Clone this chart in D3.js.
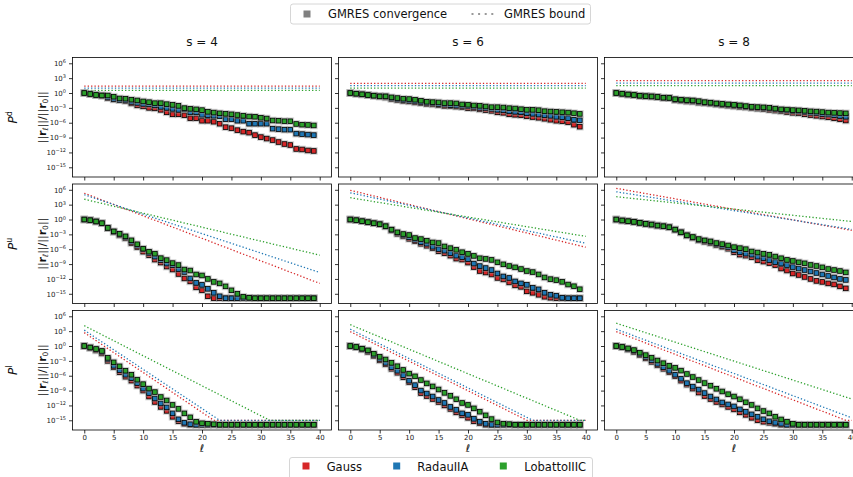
<!DOCTYPE html>
<html>
<head>
<meta charset="utf-8">
<script src="https://cdn.jsdelivr.net/npm/d3@7"></script>
<style>
  body { margin: 0; background: #fff; }
  svg { display: block; font-family: "DejaVu Sans", sans-serif; }
</style>
</head>
<body>
<svg id="chart" width="853" height="477"></svg>
<script>
const methods = ['Gauss', 'RadauIIA', 'LobattoIIIC'];
const methodColors = ['#d62728', '#1f77b4', '#2ca02c'];
const stages = [4, 6, 8];
const operators = ['d', 'u', 'l'];
const iterations = [0,1,2,3,4,5,6,7,8,9,10,11,12,13,14,15,16,17,18,19,20,21,22,23,24,25,26,27,28,29,30,31,32,33,34,35,36,37,38,39];
const xTicks = [0, 5, 10, 15, 20, 25, 30, 35, 40];
const yTickExps = [6, 3, 0, -3, -6, -9, -12, -15];

// log10 of ||r_l|| / ||r_0||
const gauss_d4 = [0,-0.2,-0.4,-0.55,-1.0,-1.3,-1.4,-1.6,-2.1,-2.5,-2.7,-3.0,-3.1,-3.4,-3.9,-4.3,-4.3,-4.5,-5.1,-5.1,-5.6,-5.6,-5.8,-6.2,-6.9,-7.1,-7.5,-7.8,-8.0,-8.5,-8.9,-9.2,-9.5,-9.9,-10.3,-10.5,-11.3,-11.4,-11.6,-11.7];
const radau_d4 = [0,-0.2,-0.4,-0.5,-0.9,-1.2,-1.4,-1.5,-1.8,-2.0,-2.2,-2.3,-2.5,-2.8,-3.0,-3.2,-3.4,-3.3,-3.9,-3.9,-4.4,-4.5,-4.6,-4.7,-5.3,-5.3,-5.6,-5.6,-6.2,-6.2,-6.2,-6.2,-7.2,-7.3,-7.4,-7.4,-8.2,-8.3,-8.4,-8.5];
const lobatto_d4 = [0,-0.2,-0.4,-0.5,-0.5,-0.75,-1.1,-1.15,-1.35,-1.5,-1.7,-1.85,-2.05,-2.05,-2.25,-2.4,-2.6,-3.05,-3.2,-3.3,-3.45,-3.8,-3.95,-4.1,-4.2,-4.3,-4.45,-4.6,-4.75,-4.8,-5.0,-5.15,-5.55,-5.6,-5.7,-5.7,-6.25,-6.4,-6.45,-6.55];

const gauss_d6 = [0,-0.14,-0.27,-0.41,-0.54,-0.68,-0.9,-1.2,-1.4,-1.6,-1.7,-1.9,-2.05,-2.2,-2.3,-2.45,-2.6,-2.65,-2.75,-2.85,-3.05,-3.1,-3.3,-3.45,-3.6,-3.9,-4.0,-4.3,-4.4,-4.5,-4.7,-4.85,-5.0,-5.2,-5.4,-5.6,-5.7,-5.9,-6.4,-6.8];
const radau_d6 = [0,-0.14,-0.27,-0.41,-0.54,-0.68,-0.68,-1.1,-1.3,-1.45,-1.55,-1.7,-1.85,-2.0,-2.1,-2.25,-2.35,-2.45,-2.55,-2.6,-2.7,-2.8,-3.0,-3.1,-3.2,-3.4,-3.5,-3.7,-3.8,-3.9,-4.1,-4.2,-4.35,-4.5,-4.6,-4.8,-4.9,-5.1,-5.4,-5.5];
const lobatto_d6 = [0,-0.14,-0.27,-0.41,-0.54,-0.68,-0.68,-0.88,-1.02,-1.16,-1.22,-1.36,-1.56,-1.77,-1.84,-1.9,-2.04,-2.04,-2.1,-2.31,-2.38,-2.52,-2.59,-2.72,-2.86,-2.86,-2.93,-3.06,-3.13,-3.27,-3.4,-3.4,-3.47,-3.67,-3.74,-3.81,-3.88,-3.95,-4.08,-4.22];

const gauss_d8 = [0,-0.15,-0.3,-0.4,-0.55,-0.65,-0.7,-0.8,-0.95,-1.0,-1.45,-1.55,-1.7,-1.75,-1.95,-2.05,-2.15,-2.3,-2.45,-2.55,-2.7,-2.8,-2.9,-3.05,-3.15,-3.25,-3.4,-3.55,-3.7,-3.85,-4.0,-4.1,-4.3,-4.45,-4.6,-4.75,-4.9,-5.1,-5.3,-5.55];
const radau_d8 = [0,-0.15,-0.3,-0.4,-0.55,-0.65,-0.7,-0.8,-0.95,-1.0,-1.35,-1.45,-1.55,-1.6,-1.8,-1.95,-2.05,-2.2,-2.3,-2.4,-2.5,-2.65,-2.75,-2.9,-2.95,-3.05,-3.15,-3.3,-3.45,-3.55,-3.65,-3.75,-3.85,-4.0,-4.1,-4.25,-4.35,-4.5,-4.65,-4.8];
const lobatto_d8 = [0,-0.15,-0.3,-0.4,-0.55,-0.65,-0.7,-0.8,-0.95,-1.0,-1.25,-1.35,-1.45,-1.5,-1.65,-1.85,-1.95,-2.1,-2.2,-2.3,-2.4,-2.5,-2.65,-2.8,-2.85,-2.9,-3.0,-3.15,-3.3,-3.35,-3.45,-3.5,-3.6,-3.7,-3.75,-3.85,-3.95,-4.0,-4.05,-4.1];

const gauss_u4 = [0,-0.14,-0.4,-0.75,-1.7,-2.5,-3.2,-3.8,-4.8,-5.6,-6.5,-7.2,-8.1,-8.7,-9.5,-10.1,-11.0,-11.9,-12.5,-13.7,-14.3,-15.5,-15.9,-15.9,-15.9,-15.9,-15.9,-15.9,-15.9,-15.9,-15.9,-15.9,-15.9,-15.9,-15.9,-15.9,-15.9,-15.9,-15.9,-15.9];
const radau_u4 = [0,-0.14,-0.4,-0.75,-1.7,-2.45,-3.0,-3.6,-4.5,-5.3,-6.0,-6.8,-7.5,-8.2,-8.9,-9.2,-10.0,-10.6,-11.9,-12.8,-13.2,-14.0,-14.8,-15.5,-15.9,-15.9,-15.9,-15.9,-15.9,-15.9,-15.9,-15.9,-15.9,-15.9,-15.9,-15.9,-15.9,-15.9,-15.9,-15.9];
const lobatto_u4 = [0,-0.14,-0.4,-0.75,-1.7,-2.4,-2.9,-3.4,-4.2,-5.0,-5.9,-6.5,-6.9,-7.8,-8.2,-8.8,-9.2,-10.1,-10.3,-11.1,-11.3,-12.0,-12.6,-12.9,-13.5,-14.3,-15.0,-15.6,-15.8,-15.9,-15.9,-15.9,-15.9,-15.9,-15.9,-15.9,-15.9,-15.9,-15.9,-15.9];

const gauss_u6 = [0,-0.14,-0.34,-0.54,-0.75,-0.95,-1.4,-2.2,-2.9,-3.4,-3.9,-4.4,-4.9,-5.3,-5.8,-6.4,-6.8,-7.3,-7.9,-8.1,-8.7,-9.6,-10.4,-10.7,-11.1,-11.8,-12.1,-12.7,-13.3,-13.6,-14.5,-14.8,-15.2,-15.6,-15.8,-15.9,-15.9,-15.9,-15.9,-15.9];
const radau_u6 = [0,-0.14,-0.34,-0.54,-0.75,-0.95,-1.36,-2.1,-2.7,-3.2,-3.6,-4.1,-4.6,-4.9,-5.5,-6.0,-6.3,-6.8,-7.3,-7.6,-8.0,-8.9,-9.4,-9.8,-10.2,-10.9,-11.5,-11.8,-12.5,-12.9,-13.2,-13.8,-14.1,-14.8,-15.2,-15.4,-15.8,-15.9,-15.9,-15.9];
const lobatto_u6 = [0,-0.14,-0.34,-0.54,-0.75,-0.95,-1.36,-2.04,-2.59,-2.93,-3.13,-3.74,-3.95,-4.29,-4.63,-4.76,-5.44,-5.78,-6.12,-6.6,-6.94,-7.35,-7.82,-7.96,-8.16,-8.64,-9.05,-9.39,-9.66,-10.0,-10.4,-10.61,-11.09,-11.7,-12.04,-12.24,-12.59,-13.13,-13.47,-14.08];

const gauss_u8 = [0,-0.2,-0.34,-0.48,-0.68,-0.88,-1.02,-1.22,-1.36,-1.56,-2.04,-2.59,-3.2,-3.7,-4.2,-4.5,-4.8,-5.2,-5.5,-5.9,-6.6,-7.1,-7.3,-7.6,-8.2,-8.5,-8.8,-9.2,-9.9,-10.3,-10.9,-11.2,-11.6,-12.0,-12.4,-12.6,-12.9,-13.1,-13.5,-13.9];
const radau_u8 = [0,-0.2,-0.34,-0.48,-0.68,-0.88,-1.02,-1.22,-1.36,-1.56,-2.04,-2.59,-3.2,-3.6,-4.1,-4.3,-4.6,-5.0,-5.3,-5.6,-6.2,-6.6,-6.9,-7.1,-7.5,-7.8,-8.2,-8.6,-8.9,-9.2,-9.6,-9.9,-10.2,-10.5,-10.8,-11.1,-11.4,-11.7,-12.0,-12.2];
const lobatto_u8 = [0,-0.2,-0.34,-0.48,-0.68,-0.88,-1.02,-1.22,-1.36,-1.56,-2.04,-2.59,-3.2,-3.54,-3.95,-4.22,-4.42,-4.76,-4.97,-5.24,-5.58,-5.78,-5.99,-6.46,-6.67,-6.94,-7.14,-7.48,-7.82,-8.16,-8.37,-8.64,-8.84,-9.18,-9.39,-9.66,-10.0,-10.2,-10.4,-10.68];

const gauss_l4 = [0,-0.4,-0.9,-1.5,-3.0,-4.3,-5.3,-6.2,-7.0,-8.0,-9.0,-10.2,-11.3,-12.3,-13.1,-14.3,-15.2,-15.7,-15.9,-15.9,-15.9,-15.9,-15.9,-15.9,-15.9,-15.9,-15.9,-15.9,-15.9,-15.9,-15.9,-15.9,-15.9,-15.9,-15.9,-15.9,-15.9,-15.9,-15.9,-15.9];
const radau_l4 = [0,-0.3,-0.7,-1.2,-2.7,-4.0,-4.9,-5.8,-6.5,-7.5,-8.6,-9.5,-10.6,-11.6,-12.4,-13.6,-14.8,-15.5,-15.8,-15.9,-15.9,-15.9,-15.9,-15.9,-15.9,-15.9,-15.9,-15.9,-15.9,-15.9,-15.9,-15.9,-15.9,-15.9,-15.9,-15.9,-15.9,-15.9,-15.9,-15.9];
const lobatto_l4 = [0,-0.3,-0.6,-1.0,-2.4,-3.3,-4.1,-5.0,-5.8,-6.8,-7.7,-8.6,-9.3,-10.3,-11.0,-11.9,-12.7,-13.6,-14.4,-15.3,-15.6,-15.7,-15.8,-15.9,-15.9,-15.9,-15.9,-15.9,-15.9,-15.9,-15.9,-15.9,-15.9,-15.9,-15.9,-15.9,-15.9,-15.9,-15.9,-15.9];

const gauss_l6 = [0,-0.25,-0.7,-1.2,-2.0,-2.9,-3.7,-4.6,-5.4,-6.3,-7.3,-8.3,-9.5,-10.1,-10.7,-11.3,-12.0,-12.7,-13.4,-14.0,-14.5,-15.2,-15.6,-15.9,-15.9,-15.9,-15.9,-15.9,-15.9,-15.9,-15.9,-15.9,-15.9,-15.9,-15.9,-15.9,-15.9,-15.9,-15.9,-15.9];
const radau_l6 = [0,-0.2,-0.6,-1.0,-1.8,-2.6,-3.4,-4.3,-5.0,-5.9,-7.0,-7.9,-9.0,-9.6,-10.2,-10.9,-11.5,-12.3,-12.9,-13.6,-13.9,-14.7,-15.3,-15.7,-15.9,-15.9,-15.9,-15.9,-15.9,-15.9,-15.9,-15.9,-15.9,-15.9,-15.9,-15.9,-15.9,-15.9,-15.9,-15.9];
const lobatto_l6 = [0,-0.2,-0.54,-0.88,-1.56,-2.18,-2.72,-3.4,-4.08,-4.83,-5.58,-6.12,-6.87,-7.55,-8.16,-8.78,-9.46,-10.07,-10.75,-11.5,-11.9,-12.59,-13.27,-14.0,-14.76,-15.44,-15.7,-15.78,-15.9,-15.9,-15.9,-15.9,-15.9,-15.9,-15.9,-15.9,-15.9,-15.9,-15.9,-15.9];

const gauss_l8 = [0,-0.25,-0.7,-1.2,-1.8,-2.5,-3.2,-3.9,-4.6,-5.3,-6.1,-7.0,-7.8,-8.6,-9.4,-10.1,-10.7,-11.3,-11.8,-12.3,-12.8,-13.4,-13.9,-14.5,-15.0,-15.3,-15.5,-15.7,-15.9,-15.9,-15.9,-15.9,-15.9,-15.9,-15.9,-15.9,-15.9,-15.9,-15.9,-15.9];
const radau_l8 = [0,-0.2,-0.6,-1.0,-1.6,-2.2,-2.9,-3.6,-4.3,-5.0,-5.8,-6.6,-7.5,-8.2,-8.8,-9.5,-10.2,-10.8,-11.4,-11.8,-12.2,-12.8,-13.3,-13.8,-14.3,-14.8,-15.2,-15.5,-15.7,-15.9,-15.9,-15.9,-15.9,-15.9,-15.9,-15.9,-15.9,-15.9,-15.9,-15.9];
const lobatto_l8 = [0,-0.2,-0.48,-0.82,-1.36,-1.84,-2.38,-2.93,-3.47,-4.01,-4.42,-4.97,-5.65,-6.26,-6.87,-7.48,-8.03,-8.64,-9.18,-9.73,-10.2,-10.75,-11.36,-11.9,-12.59,-13.13,-13.61,-14.29,-14.83,-15.31,-15.71,-15.9,-15.9,-15.9,-15.9,-15.9,-15.9,-15.9,-15.9,-15.9];

// GMRES bounds as [l, log10] break points
const bound_gauss_d4 = [[0, 1.4], [40, 1.4]];
const bound_radau_d4 = [[0, 1.0], [40, 1.0]];
const bound_lobatto_d4 = [[0, 0.55], [40, 0.55]];
const bound_gauss_d6 = [[0, 1.95], [40, 1.95]];
const bound_radau_d6 = [[0, 1.5], [40, 1.5]];
const bound_lobatto_d6 = [[0, 1.0], [40, 1.0]];
const bound_gauss_d8 = [[0, 2.5], [40, 2.5]];
const bound_radau_d8 = [[0, 2.0], [40, 2.0]];
const bound_lobatto_d8 = [[0, 1.5], [40, 1.5]];
const bound_gauss_u4 = [[0, 5.3], [40, -12.9]];
const bound_radau_u4 = [[0, 5.0], [40, -10.7]];
const bound_lobatto_u4 = [[0, 4.1], [40, -7.2]];
const bound_gauss_u6 = [[0, 5.9], [40, -5.6]];
const bound_radau_u6 = [[0, 5.4], [40, -4.8]];
const bound_lobatto_u6 = [[0, 4.4], [40, -3.4]];
const bound_gauss_u8 = [[0, 6.3], [40, -2.2]];
const bound_radau_u8 = [[0, 5.6], [40, -2.0]];
const bound_lobatto_u8 = [[0, 4.6], [40, -0.4]];
const bound_gauss_l4 = [[0, 2.7], [22, -15.0], [40, -15.0]];
const bound_radau_l4 = [[0, 3.2], [23, -15.0], [40, -15.0]];
const bound_lobatto_l4 = [[0, 4.1], [31.5, -15.0], [40, -15.0]];
const bound_gauss_l6 = [[0, 2.9], [30, -15.0], [40, -15.0]];
const bound_radau_l6 = [[0, 3.4], [31, -15.0], [40, -15.0]];
const bound_lobatto_l6 = [[0, 4.3], [39, -15.0], [40, -15.0]];
const bound_gauss_l8 = [[0, 2.9], [39, -15.0], [40, -15.0]];
const bound_radau_l8 = [[0, 3.4], [40, -14.5]];
const bound_lobatto_l8 = [[0, 4.6], [40, -10.7]];

const conv = {
  d: [[gauss_d4, radau_d4, lobatto_d4], [gauss_d6, radau_d6, lobatto_d6], [gauss_d8, radau_d8, lobatto_d8]],
  u: [[gauss_u4, radau_u4, lobatto_u4], [gauss_u6, radau_u6, lobatto_u6], [gauss_u8, radau_u8, lobatto_u8]],
  l: [[gauss_l4, radau_l4, lobatto_l4], [gauss_l6, radau_l6, lobatto_l6], [gauss_l8, radau_l8, lobatto_l8]],
};
const bounds = {
  d: [[bound_gauss_d4, bound_radau_d4, bound_lobatto_d4], [bound_gauss_d6, bound_radau_d6, bound_lobatto_d6], [bound_gauss_d8, bound_radau_d8, bound_lobatto_d8]],
  u: [[bound_gauss_u4, bound_radau_u4, bound_lobatto_u4], [bound_gauss_u6, bound_radau_u6, bound_lobatto_u6], [bound_gauss_u8, bound_radau_u8, bound_lobatto_u8]],
  l: [[bound_gauss_l4, bound_radau_l4, bound_lobatto_l4], [bound_gauss_l6, bound_radau_l6, bound_lobatto_l6], [bound_gauss_l8, bound_radau_l8, bound_lobatto_l8]],
};

const svg = d3.select('#chart');
const colLeft = [72.5, 338.5, 604.5];
const rowTop = [57.5, 184, 310.5];
const panelW = 259, panelH = 119.5;

const x = d3.scaleLinear().domain([-2, 42]).range([0, panelW]);
const y = d3.scaleLog().domain([Math.pow(10, -16.96), Math.pow(10, 7.17)]).range([panelH, 0]);
const line = d3.line().x((d) => x(d[0])).y((d) => y(Math.pow(10, d[1])));

const ms = 4.6;

function powLabel(text, exp) {
  text.text(null);
  text.append('tspan').text('10');
  text.append('tspan')
    .attr('dy', '-0.55em')
    .attr('font-size', '5px')
    .text(exp < 0 ? '\u2212' + (-exp) : String(exp));
}

operators.forEach((op, r) => {
  stages.forEach((s, c) => {
    const g = svg.append('g').attr('transform', `translate(${colLeft[c]}, ${rowTop[r]})`);

    // axes
    const xa = g.append('g')
        .attr('transform', `translate(0, ${panelH})`)
        .call(d3.axisBottom(x).tickValues(xTicks).tickSize(3.5).tickPadding(2)
          .tickFormat(r === 2 ? d3.format('d') : () => ''));
    xa.select('.domain').remove();
    xa.selectAll('.tick line').attr('stroke-width', 0.8);
    xa.selectAll('.tick text').attr('font-size', 7).attr('fill', '#222').attr('font-family', 'DejaVu Sans');

    const ya = g.append('g')
        .call(d3.axisLeft(y).tickValues(yTickExps.map((e) => Math.pow(10, e))).tickSize(3.5).tickPadding(3)
          .tickFormat(() => ''));
    ya.select('.domain').remove();
    ya.selectAll('.tick line').attr('stroke-width', 0.8);
    ya.selectAll('.tick text').attr('font-size', 7).attr('fill', '#222').attr('font-family', 'DejaVu Sans')
        .each(function(d, i) { if (c === 0) powLabel(d3.select(this), yTickExps[i]); });

    // bounds
    bounds[op][c].forEach((b, i) => {
      g.append('path')
          .datum(b)
          .attr('d', line)
          .attr('fill', 'none')
          .attr('stroke', methodColors[i])
          .attr('stroke-width', 1.3)
          .attr('stroke-dasharray', '1.3,2.1');
    });

    // convergence markers
    conv[op][c].forEach((vals, i) => {
      const pts = vals.map((v, k) => [iterations[k], v]);
      const sg = g.append('g');
      sg.selectAll('rect.halo')
        .data(pts)
        .join('rect')
          .attr('class', 'halo')
          .attr('x', (d) => x(d[0]) - ms / 2)
          .attr('y', (d) => y(Math.pow(10, d[1])) - ms / 2)
          .attr('width', ms).attr('height', ms)
          .attr('fill', 'none')
          .attr('stroke', '#999')
          .attr('stroke-opacity', 0.45)
          .attr('stroke-width', 3);
      sg.selectAll('rect.mk')
        .data(pts)
        .join('rect')
          .attr('class', 'mk')
          .attr('x', (d) => x(d[0]) - ms / 2)
          .attr('y', (d) => y(Math.pow(10, d[1])) - ms / 2)
          .attr('width', ms).attr('height', ms)
          .attr('fill', methodColors[i])
          .attr('stroke', '#000')
          .attr('stroke-width', 0.8);
    });

    g.append('rect')
        .attr('width', panelW).attr('height', panelH)
        .attr('fill', 'none').attr('stroke', '#000').attr('stroke-width', 0.8);

    if (r === 0) {
      g.append('text')
          .attr('x', panelW / 2).attr('y', -12)
          .attr('text-anchor', 'middle')
          .attr('font-size', 12).attr('fill', '#111')
          .text(`s = ${s}`);
    }
    if (r === 2) {
      g.append('text')
          .attr('x', panelW / 2).attr('y', panelH + 22)
          .attr('text-anchor', 'middle')
          .attr('font-size', 10.5).attr('font-style', 'italic').attr('fill', '#111')
          .text('\u2113');
    }
    if (c === 0) {
      const cy = panelH / 2;
      const yl = g.append('text')
          .attr('transform', `translate(-27, ${cy}) rotate(-90)`)
          .attr('text-anchor', 'middle')
          .attr('font-size', 11).attr('fill', '#111');
      yl.append('tspan').text('||');
      yl.append('tspan').attr('font-weight', 'bold').text('r');
      yl.append('tspan').attr('font-size', 7.5).attr('font-style', 'italic').attr('dy', 2.2).text('\u2113');
      yl.append('tspan').attr('dy', -2.2).text('||/||');
      yl.append('tspan').attr('font-weight', 'bold').text('r');
      yl.append('tspan').attr('font-size', 7.5).attr('dy', 2.2).text('0');
      yl.append('tspan').attr('dy', -2.2).text('||');

      const pl = g.append('text')
          .attr('transform', `translate(-56, ${cy}) rotate(-90)`)
          .attr('text-anchor', 'middle')
          .attr('font-size', 12).attr('fill', '#111');
      pl.append('tspan').attr('font-style', 'italic').text('P');
      pl.append('tspan').attr('font-size', 8).attr('dy', -5).text(op);
    }
  });
});

// top legend
const lt = svg.append('g');
lt.append('rect')
    .attr('x', 290.5).attr('y', 4).attr('width', 300).attr('height', 20).attr('rx', 2.5)
    .attr('fill', '#fff').attr('stroke', '#ccc').attr('stroke-width', 0.8);
lt.append('rect').attr('x', 303.5).attr('y', 10.5).attr('width', 7).attr('height', 7).attr('fill', '#808080');
lt.append('text').attr('x', 328).attr('y', 18).attr('font-size', 11.5).attr('fill', '#111').text('GMRES convergence');
lt.append('line')
    .attr('x1', 471.5).attr('x2', 494).attr('y1', 14).attr('y2', 14)
    .attr('stroke', '#999').attr('stroke-width', 2).attr('stroke-dasharray', '2,4.6');
lt.append('text').attr('x', 504).attr('y', 18).attr('font-size', 11.5).attr('fill', '#111').text('GMRES bound');

// bottom legend
const lb = svg.append('g');
lb.append('rect')
    .attr('x', 289.5).attr('y', 457.5).attr('width', 303).attr('height', 24).attr('rx', 2.5)
    .attr('fill', '#fff').attr('stroke', '#ccc').attr('stroke-width', 0.8);
const legX = [302.5, 393.2, 499.8];
const legTextX = [326.7, 417.3, 524.3];
methods.forEach((m, i) => {
  lb.append('rect').attr('x', legX[i]).attr('y', 462.5).attr('width', 7).attr('height', 7).attr('fill', methodColors[i]);
  lb.append('text').attr('x', legTextX[i]).attr('y', 471).attr('font-size', 11.5).attr('fill', '#111').text(m);
});
</script>
</body>
</html>
